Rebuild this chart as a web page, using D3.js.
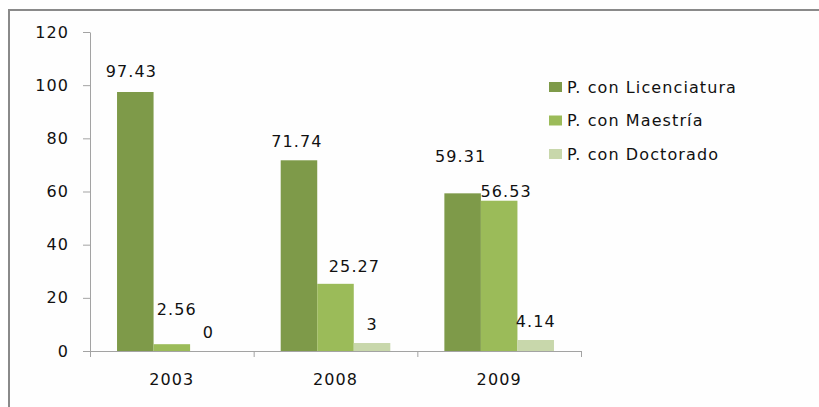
<!DOCTYPE html>
<html><head><meta charset="utf-8">
<script src="https://cdnjs.cloudflare.com/ajax/libs/d3/7.8.5/d3.min.js"></script>
<style>
html,body{margin:0;padding:0;background:#fff;}
svg{display:block;}
text{font-family:"DejaVu Sans",Verdana,sans-serif;fill:#111;}
</style></head>
<body>
<svg id="chart" width="819" height="407"></svg>
<script>
const categories = ["2003", "2008", "2009"];
const seriesNames = ["P. con Licenciatura", "P. con Maestría", "P. con Doctorado"];
const licenciatura = [97.43, 71.74, 59.31];
const maestria = [2.56, 25.27, 56.53];
const doctorado = [0, 3, 4.14];
const yTicks = [0, 20, 40, 60, 80, 100, 120];
const colors = ["#7e9a49", "#9bbb59", "#c8d7ab"];
// label nudges [dx, dy] per series per category (label placement as in the original)
const labelNudge = [
  [[-4, -15], [-2, -13], [-2, -31]],
  [[5, -29], [19, -12], [7, -4]],
  [[0, -13], [0, -13], [0, -13]]
];

const values = [licenciatura, maestria, doctorado];
const svg = d3.select("#chart");

// outer frame
svg.append("rect").attr("x", 9).attr("y", 10).attr("width", 900).attr("height", 500)
  .attr("fill", "#fefefe").attr("stroke", "#8a8a8a").attr("stroke-width", 2);

const y = d3.scaleLinear().domain([0, 120]).range([351, 32]);
const x0 = d3.scaleBand().domain(categories).range([90, 581]).paddingInner(0).paddingOuter(0);
const x1 = d3.scaleBand().domain(d3.range(seriesNames.length)).range([0, x0.bandwidth()])
  .paddingInner(0).paddingOuter(0.74);

const axisColor = "#a3a3a3";
const fontSize = 16;
const ls = "1.1px";

// y axis
const yAx = svg.append("g").attr("transform", "translate(90,0)")
  .call(d3.axisLeft(y).tickValues(yTicks).tickSize(7).tickSizeOuter(0).tickPadding(14));
yAx.select(".domain").attr("stroke", axisColor);
yAx.selectAll(".tick line").attr("stroke", axisColor);
yAx.selectAll(".tick text").attr("font-size", fontSize).attr("letter-spacing", ls)
  .attr("font-family", "DejaVu Sans").attr("fill", "#111");

// x axis boundaries
const xb = d3.scaleLinear().domain([0, categories.length]).range([90, 581]);
const xAx = svg.append("g").attr("transform", "translate(0,351)")
  .call(d3.axisBottom(xb).tickValues(d3.range(categories.length + 1))
    .tickSize(6).tickSizeOuter(0).tickFormat(""));
xAx.select(".domain").attr("stroke", axisColor).attr("d", "M83,0.5H581.5");
xAx.selectAll(".tick line").attr("stroke", axisColor);

// x labels
const xl = svg.append("g").attr("transform", "translate(0,351)")
  .call(d3.axisBottom(x0).tickSize(0).tickPadding(23));
xl.select(".domain").remove();
xl.selectAll(".tick text").attr("font-size", fontSize).attr("letter-spacing", ls)
  .attr("font-family", "DejaVu Sans").attr("fill", "#111");

// bars
const groups = svg.append("g").selectAll("g").data(categories).join("g")
  .attr("transform", d => `translate(${x0(d)},0)`);

groups.each(function(cat, ci) {
  const g = d3.select(this);
  values.forEach((arr, si) => {
    const v = arr[ci];
    g.append("rect")
      .attr("x", x1(si)).attr("width", x1.bandwidth())
      .attr("y", y(v)).attr("height", y(0) - y(v))
      .attr("fill", colors[si]);
  });
});
groups.each(function(cat, ci) {
  const g = d3.select(this);
  values.forEach((arr, si) => {
    const v = arr[ci];
    const n = labelNudge[si][ci];
    g.append("text")
      .attr("x", x1(si) + x1.bandwidth() / 2 + n[0])
      .attr("y", y(v) + n[1])
      .attr("text-anchor", "middle")
      .attr("font-size", fontSize).attr("letter-spacing", ls)
      .text(String(v));
  });
});

// legend
const legend = svg.append("g");
const rowY = d3.scalePoint().domain(d3.range(seriesNames.length)).range([87, 154]);
seriesNames.forEach((name, i) => {
  legend.append("rect").attr("x", 549).attr("y", rowY(i) - 5).attr("width", 13).attr("height", 10)
    .attr("fill", colors[i]);
  legend.append("text").attr("x", 567).attr("y", rowY(i)).attr("dy", "0.36em")
    .attr("font-size", fontSize).attr("letter-spacing", ls).text(name);
});
</script>
</body></html>
